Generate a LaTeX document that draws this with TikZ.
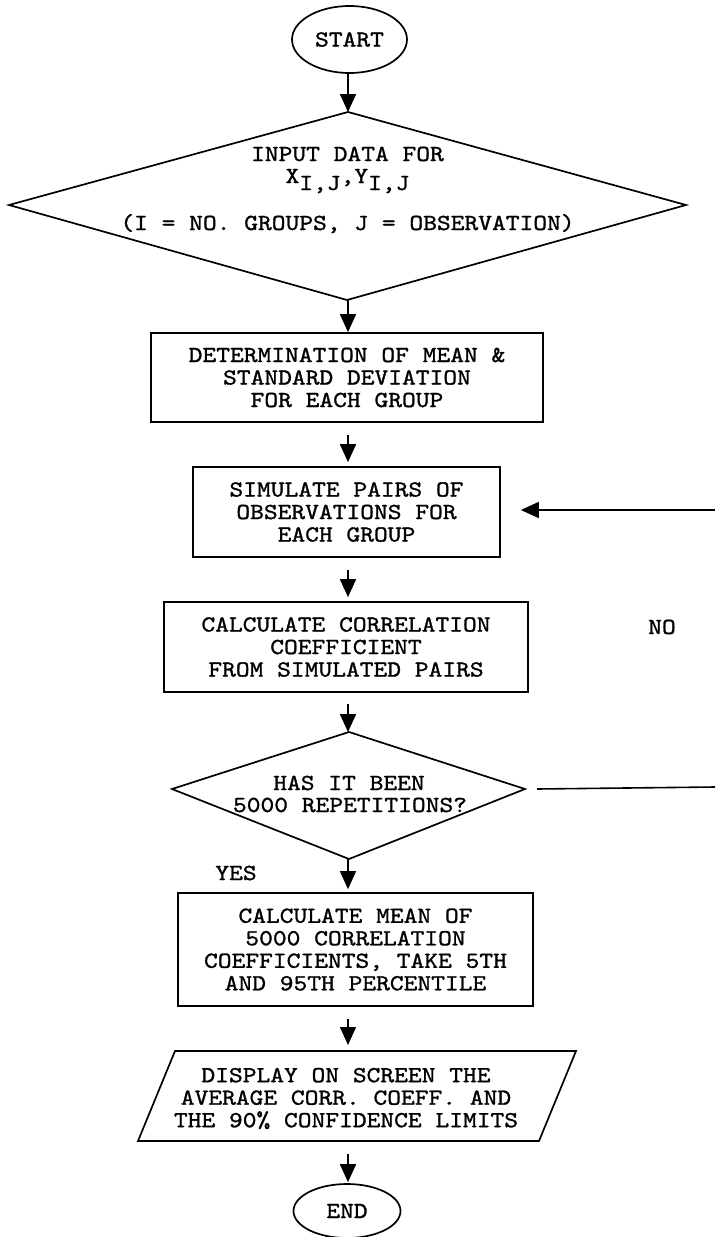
\documentclass[tikz,border=0pt]{standalone}
\usepackage{fontspec}
\setmainfont{lmmono10-regular.otf}[FakeStretch=1.14, FakeBold=1.2]
\usetikzlibrary{shapes.geometric,arrows.meta,calc}
\begin{document}
\begin{tikzpicture}[x=1pt,y=-1pt,
  txt/.style={font=\fontsize{23}{22.5}\selectfont, inner sep=0pt, align=center},
  shp/.style={draw, line width=1.7pt},
  box/.style={txt, shp, rectangle},
  term/.style={txt, shp, ellipse},
  line/.style={line width=1.6pt},
  arr/.style={line width=1.6pt, -{Triangle[width=16pt,length=18pt]}}]
\useasboundingbox (0,0) rectangle (715,1237);
\fill[white] (0,0) rectangle (715,1237);
\coordinate (ax) at (348,0);

% start
\node[term, minimum width=115pt, minimum height=67pt] (start) at (349.5,39.5) {START};

% input diamond
\coordinate (iT) at (348,112);
\coordinate (iR) at (686,205);
\coordinate (iB) at (347,300);
\coordinate (iL) at (9,205);
\draw[shp] (iT) -- (iR) -- (iB) -- (iL) -- cycle;
\node[txt, anchor=base] (inA) at (347.5,161) {INPUT DATA FOR};
\node[txt, anchor=base] (inB) at (347.5,183) {X\raisebox{-7pt}{I,J},Y\raisebox{-7pt}{I,J}};
\node[txt, anchor=base] (inC) at (347.5,230) {(I = NO. GROUPS, J = OBSERVATION)};

% boxes
\node[box, minimum width=392pt, minimum height=89pt] (box1) at (347,377.5) {DETERMINATION OF MEAN \&\\STANDARD DEVIATION\\FOR EACH GROUP};
\node[box, minimum width=307pt, minimum height=90pt] (box2) at (346.5,512) {SIMULATE PAIRS OF\\OBSERVATIONS FOR\\EACH GROUP};
\node[box, minimum width=364pt, minimum height=90pt] (box3) at (346,647) {CALCULATE CORRELATION\\COEFFICIENT\\FROM SIMULATED PAIRS};

% decision
\coordinate (dT) at (349,732);
\coordinate (dR) at (525,789);
\coordinate (dB) at (349,859);
\coordinate (dL) at (172,789);
\draw[shp] (dT) -- (dR) -- (dB) -- (dL) -- cycle;
\node[txt, anchor=base] (decA) at (349,790) {HAS IT BEEN};
\node[txt, anchor=base] (decB) at (350,812) {5000 REPETITIONS?};

\node[txt, anchor=base] (yes) at (236,880) {YES};
\node[txt, anchor=base] (no) at (662,634) {NO};

\node[box, minimum width=355pt, minimum height=113pt] (box4) at (355.5,949.5) {CALCULATE MEAN OF\\5000 CORRELATION\\COEFFICIENTS, TAKE 5TH\\AND 95TH PERCENTILE};

% display parallelogram
\node[txt] (disp) at (346,1098.5) {DISPLAY ON SCREEN THE\\AVERAGE CORR. COEFF. AND\\THE 90\% CONFIDENCE LIMITS};
\coordinate (pTL) at (175,1051);
\coordinate (pTR) at (576,1051);
\coordinate (pBR) at (539,1141);
\coordinate (pBL) at (138,1141);
\draw[shp] (pTL) -- (pTR) -- (pBR) -- (pBL) -- cycle;

% end
\node[term, minimum width=107pt, minimum height=54pt] (endn) at (347,1211) {END};

% connectors
\draw[arr] (start.south -| ax) -- (ax |- iT);
\draw[arr] (ax |- iB) -- (box1.north -| ax);
\draw[arr, shorten <=12pt, shorten >=4pt] (box1.south -| ax) -- (box2.north -| ax);
\draw[arr, shorten <=12pt, shorten >=4pt] (box2.south -| ax) -- (box3.north -| ax);
\draw[arr, shorten <=11pt] (box3.south -| ax) -- (ax |- dT);
\draw[arr, shorten >=3pt] (ax |- dB) -- (box4.north -| ax);
\draw[arr, shorten <=12pt, shorten >=6pt] (box4.south -| ax) -- (ax |- pTL);
\draw[arr, shorten <=13pt, shorten >=1pt] (ax |- pBL) -- (endn.north -| ax);

% NO loop
\coordinate (noR) at (715,787);
\coordinate (noT) at (715,510);
\draw[line] ([xshift=12pt]dR) -- (noR);
\draw[arr, shorten >=20pt] (noT) -- (box2.east |- noT);
\end{tikzpicture}
\end{document}
